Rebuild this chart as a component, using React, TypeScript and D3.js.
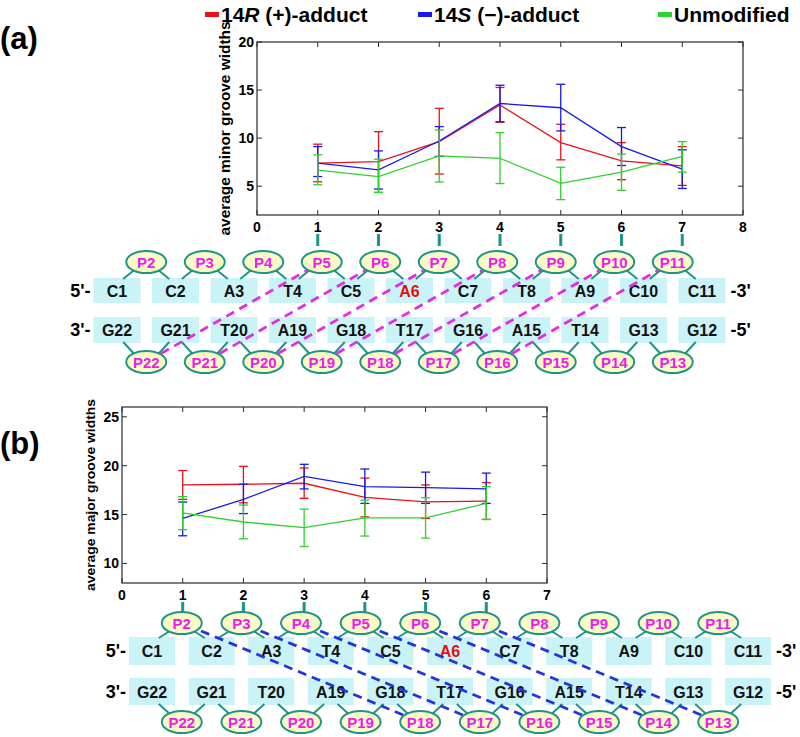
import React from "react";
import * as d3 from "d3";

// minor groove widths (panel a), positions 1..7
const aRed = [7.4, 7.55, 9.64, 13.44, 9.53, 7.64, 7.12];
const aRedHi = [9.37, 10.67, 13.1, 15.27, 11.44, 9.53, 9.12];
const aRedLo = [5.46, 4.35, 6.26, 11.65, 7.74, 5.67, 5.08];
const aBlue = [7.4, 6.7, 9.7, 13.6, 13.16, 9.12, 6.77];
const aBlueHi = [9.12, 8.67, 11.2, 15.5, 15.6, 11.1, 8.78];
const aBlueLo = [6.0, 4.7, 8.1, 11.7, 10.75, 7.15, 4.76];
const aGreen = [6.66, 6.0, 8.15, 7.9, 5.3, 6.46, 8.1];
const aGreenHi = [8.26, 7.8, 10.85, 10.57, 6.97, 8.33, 9.64];
const aGreenLo = [5.15, 4.35, 5.43, 5.27, 3.6, 4.56, 6.46];

// major groove widths (panel b), positions 1..6
const bRed = [18.03, 18.1, 18.2, 16.76, 16.3, 16.38];
const bRedHi = [19.5, 19.93, 19.76, 18.73, 18.03, 18.27];
const bRedLo = [16.55, 16.2, 16.66, 14.76, 14.6, 14.5];
const bBlue = [14.6, 16.55, 18.9, 17.86, 17.76, 17.62];
const bBlueHi = [16.28, 18.1, 20.14, 19.66, 19.34, 19.24];
const bBlueLo = [12.83, 15.1, 17.62, 16.14, 16.14, 16.14];
const bGreen = [15.17, 14.24, 13.66, 14.66, 14.66, 16.14];
const bGreenHi = [16.83, 15.97, 15.55, 16.48, 16.72, 17.86];
const bGreenLo = [13.45, 12.52, 11.73, 12.8, 12.59, 14.5];

const aXTicks = [0, 1, 2, 3, 4, 5, 6, 7, 8];
const aYTicks = [5, 10, 15, 20];
const bXTicks = [0, 1, 2, 3, 4, 5, 6, 7];
const bYTicks = [10, 15, 20, 25];

// DNA duplex
const topBases = ["C1", "C2", "A3", "T4", "C5", "A6", "C7", "T8", "A9", "C10", "C11"];
const bottomBases = ["G22", "G21", "T20", "A19", "G18", "T17", "G16", "A15", "T14", "G13", "G12"];
const topPhos = [2, 3, 4, 5, 6, 7, 8, 9, 10, 11];
const bottomPhos = [22, 21, 20, 19, 18, 17, 16, 15, 14, 13];
const aLinks = [[22, 5], [21, 6], [20, 7], [19, 8], [18, 9], [17, 10], [16, 11]];
const bLinks = [[18, 2], [17, 3], [16, 4], [15, 5], [14, 6], [13, 7]];

const RED = "#e8121c";
const BLUE = "#1a1ae6";
const GREEN = "#2ed12e";
const TEAL = "#1f9484";
const FONT = "'Liberation Sans', Arial, sans-serif";

const Panel = ({ box, xDomain, yDomain, xTicks, yTicks, series, ylabel, ylabelX, ylabelSize, ylabelLen }) => {
  const x = d3.scaleLinear().domain(xDomain).range([box.left, box.right]);
  const y = d3.scaleLinear().domain(yDomain).range([box.bottom, box.top]);
  const line = d3
    .line<number>()
    .x((d, i) => x(i + 1))
    .y((d) => y(d));
  const n = series[0].values.length;
  const positions = d3.range(1, n + 1);

  return (
    <g>
      {series.map((s) => (
        <g key={s.color}>
          <path d={line(s.values)} fill="none" stroke={s.color} strokeWidth={1.3} />
          {s.values.map((v, i) => (
            <g key={i} stroke={s.color} strokeWidth={1.3}>
              <line x1={x(i + 1)} x2={x(i + 1)} y1={y(s.hi[i])} y2={y(s.lo[i])} />
              <line x1={x(i + 1) - 4.5} x2={x(i + 1) + 4.5} y1={y(s.hi[i])} y2={y(s.hi[i])} />
              <line x1={x(i + 1) - 4.5} x2={x(i + 1) + 4.5} y1={y(s.lo[i])} y2={y(s.lo[i])} />
            </g>
          ))}
        </g>
      ))}
      <rect
        x={box.left}
        y={box.top}
        width={box.right - box.left}
        height={box.bottom - box.top}
        fill="none"
        stroke="#2b2b2b"
        strokeWidth={1.2}
      />
      {xTicks.map((t) => (
        <g key={"x" + t}>
          <line x1={x(t)} x2={x(t)} y1={box.bottom} y2={box.bottom - 5} stroke="#2b2b2b" />
          <line x1={x(t)} x2={x(t)} y1={box.top} y2={box.top + 5} stroke="#2b2b2b" />
          <text
            x={x(t)}
            y={box.bottom + 17}
            textAnchor="middle"
            fontSize={14}
            fontWeight="bold"
            fontFamily={FONT}
          >
            {t}
          </text>
        </g>
      ))}
      {yTicks.map((t) => (
        <g key={"y" + t}>
          <line x1={box.left} x2={box.left + 5} y1={y(t)} y2={y(t)} stroke="#2b2b2b" />
          <line x1={box.right} x2={box.right - 5} y1={y(t)} y2={y(t)} stroke="#2b2b2b" />
          <text
            x={box.left - 3}
            y={y(t) + 5}
            textAnchor="end"
            fontSize={14}
            fontWeight="bold"
            fontFamily={FONT}
          >
            {t}
          </text>
        </g>
      ))}
      {positions.map((p) => (
        <line
          key={"m" + p}
          x1={x(p)}
          x2={x(p)}
          y1={box.bottom + 19}
          y2={box.bottom + 31}
          stroke={TEAL}
          strokeWidth={3}
        />
      ))}
      <text
        transform={`translate(${ylabelX},${(box.top + box.bottom) / 2}) rotate(-90)`}
        textAnchor="middle"
        fontSize={ylabelSize}
        fontWeight="bold"
        fontFamily={FONT}
        textLength={ylabelLen}
        lengthAdjust="spacingAndGlyphs"
      >
        {ylabel}
      </text>
    </g>
  );
};

function trim(cx, cy, tx, ty, rx, ry) {
  const dx = tx - cx;
  const dy = ty - cy;
  const t = 1 / Math.sqrt((dx / rx) ** 2 + (dy / ry) ** 2);
  return [cx + dx * t, cy + dy * t];
}

const Duplex = ({ x0, step, boxW, top, links, linkColor }) => {
  const bx = d3.scaleLinear().domain([0, 10]).range([x0, x0 + 10 * step]);
  const { pTop, boxTop, boxTopH, boxBot, boxBotH, pBot } = top;
  const rx = 20;
  const ry = 11;
  const topX = (k) => bx(k - 2 + 0.5);
  const botX = (k) => bx(22 - k + 0.5);
  const baseFont = { fontSize: 16, fontWeight: "bold", fontFamily: FONT };
  const phosFont = { fontSize: 15, fontWeight: "bold", fontFamily: FONT, fill: "#ee1aee" };

  return (
    <g>
      {topBases.map((b, i) => (
        <g key={b}>
          <rect x={bx(i) - boxW / 2} y={boxTop} width={boxW} height={boxTopH} fill="#c9f3f7" />
          <text x={bx(i)} y={boxTop + boxTopH / 2 + 6} textAnchor="middle" {...baseFont} fill={b === "A6" ? "#e01010" : "#111"}>
            {b}
          </text>
        </g>
      ))}
      {bottomBases.map((b, i) => (
        <g key={b}>
          <rect x={bx(i) - boxW / 2} y={boxBot} width={boxW} height={boxBotH} fill="#c9f3f7" />
          <text x={bx(i)} y={boxBot + boxBotH / 2 + 6} textAnchor="middle" {...baseFont} fill="#111">
            {b}
          </text>
        </g>
      ))}
      <g fontSize={18} fontWeight="bold" fontFamily={FONT}>
        <text x={bx(0) - boxW / 2 - 3} y={boxTop + boxTopH / 2 + 6} textAnchor="end">5'-</text>
        <text x={bx(0) - boxW / 2 - 3} y={boxBot + boxBotH / 2 + 6} textAnchor="end">3'-</text>
        <text x={bx(10) + boxW / 2 + 5} y={boxTop + boxTopH / 2 + 6}>-3'</text>
        <text x={bx(10) + boxW / 2 + 5} y={boxBot + boxBotH / 2 + 6}>-5'</text>
      </g>
      {topPhos.map((k) => (
        <g key={"t" + k} stroke={TEAL} strokeWidth={2}>
          <line x1={topX(k) - 12} y1={pTop + 8} x2={topX(k) - 23} y2={boxTop + 1} />
          <line x1={topX(k) + 12} y1={pTop + 8} x2={topX(k) + 23} y2={boxTop + 1} />
        </g>
      ))}
      {bottomPhos.map((k) => (
        <g key={"b" + k} stroke={TEAL} strokeWidth={2}>
          <line x1={botX(k) - 12} y1={pBot - 8} x2={botX(k) - 23} y2={boxBot + boxBotH - 1} />
          <line x1={botX(k) + 12} y1={pBot - 8} x2={botX(k) + 23} y2={boxBot + boxBotH - 1} />
        </g>
      ))}
      {links.map(([b, t]) => {
        const [x1, y1] = trim(botX(b), pBot, topX(t), pTop, rx + 1, ry + 1);
        const [x2, y2] = trim(topX(t), pTop, botX(b), pBot, rx + 1, ry + 1);
        return (
          <line
            key={"l" + b}
            x1={x1}
            y1={y1}
            x2={x2}
            y2={y2}
            stroke={linkColor}
            strokeWidth={2.8}
            strokeDasharray="9,6"
          />
        );
      })}
      {topPhos.map((k) => (
        <g key={"te" + k}>
          <ellipse cx={topX(k)} cy={pTop} rx={rx} ry={ry} fill="#fbfbc6" stroke={TEAL} strokeWidth={2} />
          <text x={topX(k)} y={pTop + 5.5} textAnchor="middle" {...phosFont}>
            {"P" + k}
          </text>
        </g>
      ))}
      {bottomPhos.map((k) => (
        <g key={"be" + k}>
          <ellipse cx={botX(k)} cy={pBot} rx={rx} ry={ry} fill="#fbfbc6" stroke={TEAL} strokeWidth={2} />
          <text x={botX(k)} y={pBot + 5.5} textAnchor="middle" {...phosFont}>
            {"P" + k}
          </text>
        </g>
      ))}
    </g>
  );
};

const legendItems = [
  { color: RED, x: 205, pre: "14", it: "R", post: " (+)-adduct" },
  { color: BLUE, x: 418, pre: "14", it: "S", post: " (\u2212)-adduct" },
  { color: GREEN, x: 658, pre: "Unmodified", it: "", post: "" },
];

export default function App() {
  const aSeries = [
    { color: RED, values: aRed, hi: aRedHi, lo: aRedLo },
    { color: BLUE, values: aBlue, hi: aBlueHi, lo: aBlueLo },
    { color: GREEN, values: aGreen, hi: aGreenHi, lo: aGreenLo },
  ];
  const bSeries = [
    { color: RED, values: bRed, hi: bRedHi, lo: bRedLo },
    { color: BLUE, values: bBlue, hi: bBlueHi, lo: bBlueLo },
    { color: GREEN, values: bGreen, hi: bGreenHi, lo: bGreenLo },
  ];

  return (
    <div style={{ position: "absolute", left: 0, top: 0 }}>
      <svg width={800} height={737} style={{ display: "block", background: "#fff" }}>
        {legendItems.map((l) => (
          <g key={l.color}>
            <rect x={l.x} y={12} width={14} height={5} fill={l.color} />
            <text x={l.x + 16} y={22} fontSize={21} fontWeight="bold" fontFamily={FONT}>
              {l.pre}
              <tspan fontStyle="italic">{l.it}</tspan>
              {l.post}
            </text>
          </g>
        ))}
        <text x={0} y={49} fontSize={31} fontWeight="bold" fontFamily={FONT}>(a)</text>
        <text x={0} y={454} fontSize={31} fontWeight="bold" fontFamily={FONT}>(b)</text>

        <Panel
          box={{ left: 257, right: 743, top: 42, bottom: 215 }}
          xDomain={[0, 8]}
          yDomain={[2, 20]}
          xTicks={aXTicks}
          yTicks={aYTicks}
          series={aSeries}
          ylabel="average minor groove widths"
          ylabelX={230}
          ylabelSize={14.5}
          ylabelLen={214}
        />
        <Duplex
          x0={117}
          step={58.5}
          boxW={47}
          top={{ pTop: 262, boxTop: 278, boxTopH: 25, boxBot: 317, boxBotH: 26, pBot: 362 }}
          links={aLinks}
          linkColor="#e22ee2"
        />

        <Panel
          box={{ left: 122, right: 547, top: 407, bottom: 583 }}
          xDomain={[0, 7]}
          yDomain={[8, 26]}
          xTicks={bXTicks}
          yTicks={bYTicks}
          series={bSeries}
          ylabel="average major groove widths"
          ylabelX={95}
          ylabelSize={13}
          ylabelLen={192}
        />
        <Duplex
          x0={152}
          step={59.6}
          boxW={46}
          top={{ pTop: 623, boxTop: 637, boxTopH: 28, boxBot: 678, boxBotH: 27, pBot: 722 }}
          links={bLinks}
          linkColor="#2433e0"
        />
      </svg>
    </div>
  );
}
